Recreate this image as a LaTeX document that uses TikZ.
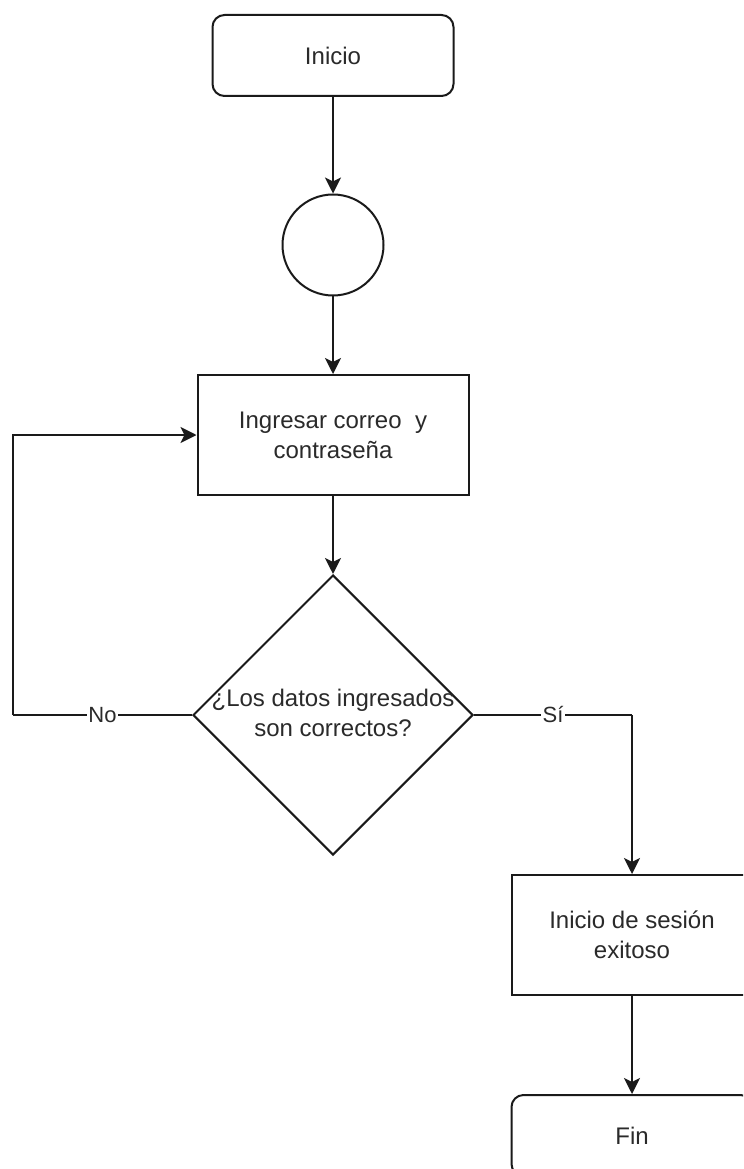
\documentclass[tikz,border=0pt]{standalone}
\usepackage{fontspec}
\setmainfont{Liberation Sans}
\usetikzlibrary{shapes.geometric,arrows.meta}
\definecolor{txt}{HTML}{2A2A2A}
\definecolor{ln}{HTML}{1A1A1A}
\begin{document}
\begin{tikzpicture}[x=0.75pt,y=-0.75pt,
  base/.style={draw=ln, line width=1.5pt, text=txt, font=\fontsize{18}{22.5}\selectfont, align=center, inner sep=0pt},
  term/.style={base, rectangle, rounded corners=9pt, minimum width=180.75pt, minimum height=60.75pt},
  proc/.style={base, rectangle, minimum height=90pt},
  conn/.style={base, circle, minimum size=75.75pt},
  dec/.style={base, diamond, minimum width=210pt, minimum height=210pt},
  dtext/.style={text=txt, font=\fontsize{18}{22.5}\selectfont, align=center, inner sep=0pt},
  arr/.style={draw=ln, line width=1.5pt, -{Stealth[length=12pt,width=12pt,inset=3pt]}},
  lne/.style={draw=ln, line width=1.5pt},
  lbl/.style={fill=white, text=txt, font=\fontsize{16.5}{20}\selectfont, inner sep=1pt}]
\useasboundingbox (0,0) rectangle (743,1169);
\clip (0,0) rectangle (743,1169);
\fill[white] (0,0) rectangle (743,1169);
\node[term] (start) at (333,55.5) {Inicio};
\node[conn] (circ) at (333,245) {};
\node[proc, minimum width=203.25pt] (input) at (333,435) {Ingresar correo\ \ y\\contraseña};
\node[dec] (dec) at (333,715) {};
\node[dtext] (dect) at (333,713) {¿Los datos ingresados\\son correctos?};
\node[proc, minimum width=180pt] (ok) at (632,935) {Inicio de sesión\\exitoso};
\node[term] (fin) at (632,1135.5) {Fin};
\coordinate (loopc) at (13,715);
\coordinate (sic) at (632,715);
\draw[arr] (start) -- (circ);
\draw[arr] (circ) -- (input);
\draw[arr] (input) -- (dec);
\draw[lne] (dec.west) -- node[lbl] {No} (loopc);
\draw[arr] (loopc) |- (input.west);
\draw[lne] (dec.east) -- node[lbl] {Sí} (sic);
\draw[arr] (sic) -- (ok.north);
\draw[arr] (ok) -- (fin);
\end{tikzpicture}
\end{document}
